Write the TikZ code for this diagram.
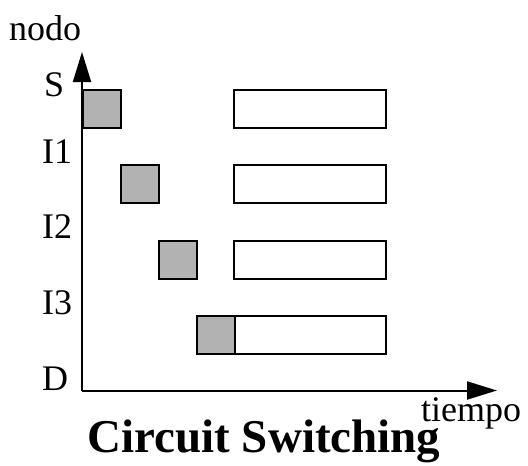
\documentclass[tikz,border=0pt]{standalone}
\usepackage{fontspec}
\setmainfont{Liberation Serif}
\usetikzlibrary{arrows.meta}
\begin{document}
\begin{tikzpicture}[x=1pt,y=-1pt,
  lbl/.style={inner sep=0pt,anchor=base west,font=\fontsize{36}{40}\selectfont},
  gbox/.style={draw=black,line width=2pt,fill=black!30,minimum width=38pt,minimum height=38pt,inner sep=0pt,anchor=north west},
  wbox/.style={draw=black,line width=2pt,fill=white,minimum width=152pt,minimum height=38pt,inner sep=0pt,anchor=north west},
  axis/.style={line width=2pt,-{Triangle[length=30pt,width=18pt]}}]
\useasboundingbox (0,0) rectangle (528,466);
\coordinate (O) at (82,390.5);
\coordinate (ytop) at (82,52);
\coordinate (xend) at (497,390.5);
% boxes
\node[wbox] (w1) at (233,88.5) {};
\node[wbox] (w2) at (233,164) {};
\node[wbox] (w3) at (233,239.5) {};
\node[wbox] (w4) at (233,315) {};
\node[gbox] (g1) at (82,88.5) {};
\node[gbox] (g2) at (120,164) {};
\node[gbox] (g3) at (158,239.5) {};
\node[gbox] (g4) at (196,315) {};
% axes
\draw[axis] (O) -- (ytop);
\draw[axis] (O) -- (xend);
% labels
\node[lbl] (nodo) at (9,40) {nodo};
\node[lbl] (S) at (44,96) {S};
\node[lbl] (I1) at (42,163) {I1};
\node[lbl] (I2) at (42,238) {I2};
\node[lbl] (I3) at (42,314) {I3};
\node[lbl] (D) at (42,390) {D};
\node[lbl] (tiempo) at (421,421) {tiempo};
\node[inner sep=0pt,anchor=base,font=\fontsize{47}{50}\selectfont\bfseries] (title) at (264,452) {Circuit Switching};
\end{tikzpicture}
\end{document}
